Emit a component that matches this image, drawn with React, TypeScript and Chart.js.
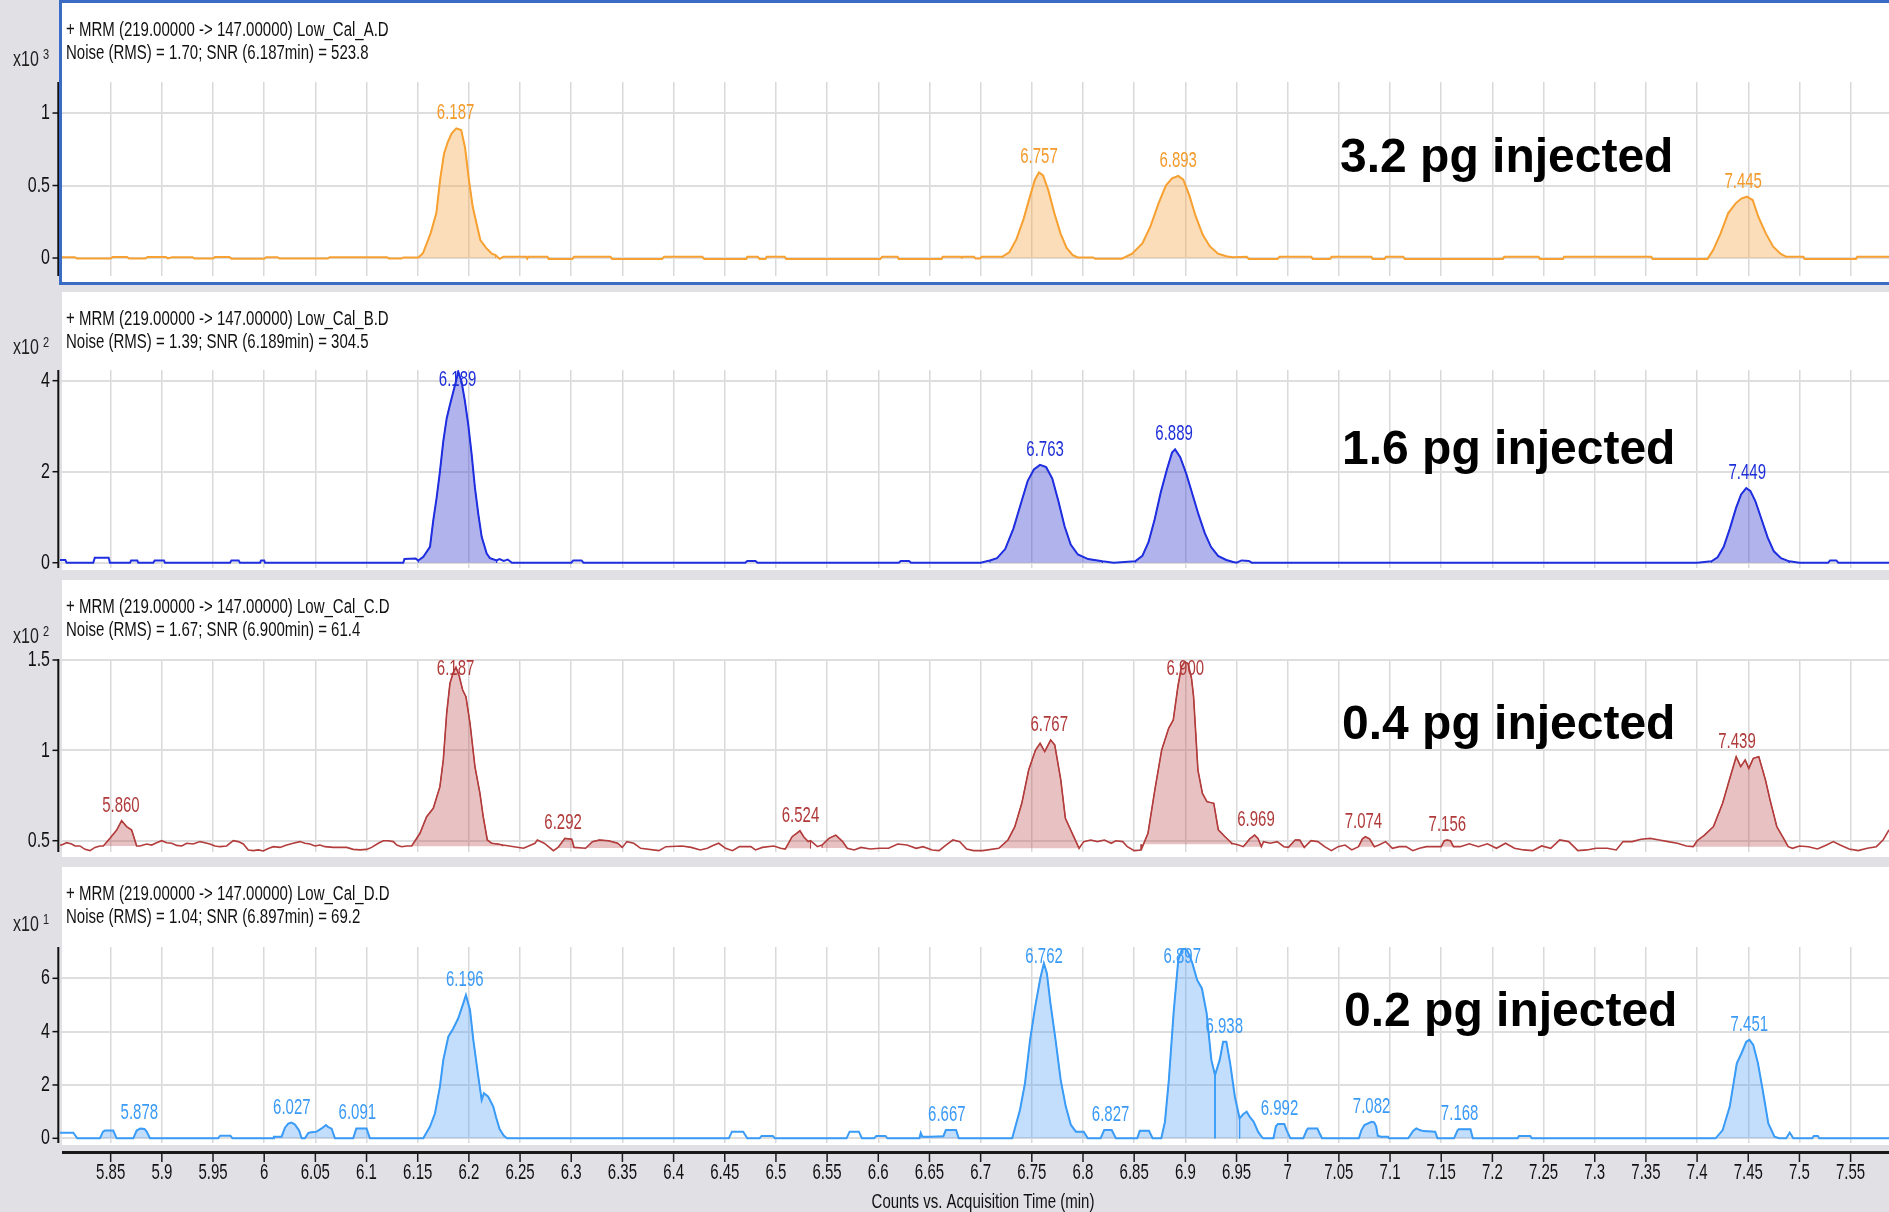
import React, { useEffect, useRef } from 'react';
import { Chart, registerables } from 'chart.js';
Chart.register(...registerables);

// ---------------- data ----------------
const X_TICKS = [5.85, 5.9, 5.95, 6, 6.05, 6.1, 6.15, 6.2, 6.25, 6.3, 6.35, 6.4, 6.45, 6.5, 6.55, 6.6, 6.65, 6.7, 6.75, 6.8, 6.85, 6.9, 6.95, 7, 7.05, 7.1, 7.15, 7.2, 7.25, 7.3, 7.35, 7.4, 7.45, 7.5, 7.55];
const X_MIN = 5.8005;
const X_MAX = 7.5875;
const X_TITLE = 'Counts vs. Acquisition Time (min)';

const A_Y_TICKS = [0, 0.5, 1];
const B_Y_TICKS = [0, 2, 4];
const C_Y_TICKS = [0.5, 1, 1.5];
const D_Y_TICKS = [0, 2, 4, 6];

const EXPONENTS = [3, 2, 2, 1];
const HEADER_1 = [
  '+ MRM (219.00000 -> 147.00000) Low_Cal_A.D',
  '+ MRM (219.00000 -> 147.00000) Low_Cal_B.D',
  '+ MRM (219.00000 -> 147.00000) Low_Cal_C.D',
  '+ MRM (219.00000 -> 147.00000) Low_Cal_D.D',
];
const HEADER_2 = [
  'Noise (RMS) = 1.70; SNR (6.187min) = 523.8',
  'Noise (RMS) = 1.39; SNR (6.189min) = 304.5',
  'Noise (RMS) = 1.67; SNR (6.900min) = 61.4',
  'Noise (RMS) = 1.04; SNR (6.897min) = 69.2',
];
const AMOUNTS = ['3.2 pg injected', '1.6 pg injected', '0.4 pg injected', '0.2 pg injected'];

// Panel A (x10^3)
const A_TRACE = [
  [5.8005, 0.006], [5.815, 0.006], [5.817, -0.004], [5.850, -0.004], [5.852, 0.007], [5.866, 0.007], [5.868, -0.004], [5.884, -0.004], [5.886, 0.007], [5.904, 0.007], [5.906, -0.003], [5.910, 0.006], [5.930, 0.006], [5.932, -0.004], [5.950, -0.004], [5.952, 0.007], [5.966, 0.007], [5.968, -0.005], [6.000, -0.005], [6.002, 0.006], [6.013, 0.006], [6.015, -0.004], [6.062, -0.004], [6.064, 0.006], [6.120, 0.006], [6.122, -0.004], [6.134, -0.004], [6.136, 0.004], [6.1506, 0.004],
  [6.1551, 0.033], [6.1626, 0.17], [6.1682, 0.31], [6.1719, 0.54], [6.1757, 0.72], [6.1794, 0.80], [6.1832, 0.86], [6.1877, 0.894], [6.1925, 0.883], [6.1963, 0.76], [6.2000, 0.54], [6.2037, 0.355], [6.2074, 0.24], [6.2112, 0.124], [6.2168, 0.07], [6.2224, 0.03], [6.2261, 0.02],
  [6.2300, -0.006], [6.2337, 0.008], [6.2561, 0.008], [6.2570, -0.004], [6.2580, 0.008], [6.2767, 0.008], [6.2780, -0.006], [6.3010, -0.006], [6.3028, 0.008], [6.3384, 0.008], [6.3400, -0.006], [6.3888, -0.006], [6.3907, 0.008], [6.4281, 0.008], [6.4300, -0.006], [6.4711, -0.006], [6.4720, 0.008], [6.4823, 0.008], [6.4840, -0.006], [6.4898, -0.006], [6.4910, 0.008], [6.5085, 0.008], [6.5100, -0.006], [6.6020, -0.006], [6.6038, 0.008], [6.6188, 0.008], [6.6200, -0.006], [6.6618, -0.006], [6.6630, 0.008], [6.6805, 0.008], [6.6815, 0.002], [6.6824, 0.008], [6.6936, 0.008], [6.6950, -0.004], [6.6992, -0.004], [6.7011, 0.008], [6.7210, 0.008],
  [6.7280, 0.04], [6.7350, 0.13], [6.7420, 0.27], [6.7480, 0.42], [6.7530, 0.54], [6.7570, 0.59], [6.7610, 0.57], [6.7660, 0.47], [6.7720, 0.31], [6.7780, 0.17], [6.7840, 0.07], [6.7900, 0.02], [6.7950, 0.004],
  [6.8100, 0.004], [6.8120, -0.005], [6.8380, -0.005],
  [6.8480, 0.03], [6.8580, 0.10], [6.8660, 0.22], [6.8740, 0.38], [6.8810, 0.50], [6.8870, 0.55], [6.8930, 0.566], [6.8980, 0.54], [6.9040, 0.43], [6.9100, 0.29], [6.9170, 0.16], [6.9240, 0.08], [6.9320, 0.03], [6.9400, 0.012], [6.9460, 0.006],
  [6.9600, 0.008], [6.9620, -0.006], [6.9900, -0.006], [6.9920, 0.008], [7.0230, 0.008], [7.0245, -0.006], [7.0414, -0.006], [7.0430, 0.008], [7.0817, 0.008], [7.0830, -0.006], [7.0946, -0.006], [7.0960, 0.008], [7.1129, 0.008], [7.1145, -0.006], [7.2102, -0.006], [7.2115, 0.008], [7.2451, 0.008], [7.2465, -0.006], [7.2689, -0.006], [7.2700, 0.008], [7.3552, 0.008], [7.3565, -0.006], [7.4102, -0.006],
  [7.4157, 0.055], [7.4230, 0.17], [7.4304, 0.31], [7.4377, 0.377], [7.4432, 0.41], [7.4487, 0.423], [7.4543, 0.40], [7.4598, 0.285], [7.4671, 0.17], [7.4744, 0.078], [7.4817, 0.028], [7.4873, 0.008],
  [7.5038, 0.008], [7.5050, -0.006], [7.5552, -0.006], [7.5565, 0.008], [7.5875, 0.008],
];
const A_PEAKS = [[6.1506, 6.2261, 0], [6.7210, 6.7950, 0], [6.8380, 6.9460, 0], [7.4102, 7.4873, 0]];
const A_LABELS = [6.187, 6.757, 6.893, 7.445];

// Panel B (x10^2)
const B_TRACE = [
  [5.8005, 0.06], [5.8057, 0.06], [5.8070, 0], [5.8330, 0], [5.8345, 0.11], [5.8480, 0.11], [5.8493, 0], [5.8689, 0], [5.8700, 0.05], [5.8760, 0.05], [5.8770, 0], [5.8916, 0], [5.8930, 0.05], [5.9020, 0.05], [5.9031, 0], [5.9666, 0], [5.9680, 0.05], [5.9750, 0.05], [5.9764, 0], [5.9959, 0], [5.9970, 0.05], [6.0000, 0.05], [6.0008, 0], [6.1359, 0], [6.1370, 0.08], [6.1480, 0.09], [6.1505, 0.05],
  [6.1555, 0.13], [6.1620, 0.35], [6.1652, 0.93], [6.1685, 1.43], [6.1717, 2.0], [6.1750, 2.67], [6.1783, 3.17], [6.1815, 3.47], [6.1847, 3.75], [6.1880, 4.04], [6.1896, 4.2], [6.1929, 3.97], [6.1962, 3.54], [6.1994, 3.03], [6.2027, 2.38], [6.2059, 1.65], [6.2092, 1.07], [6.2125, 0.57], [6.2174, 0.2], [6.2206, 0.1], [6.2271, 0.05],
  [6.2300, 0.08], [6.2340, 0.04], [6.2380, 0.07], [6.2420, 0.0], [6.3000, 0], [6.3020, 0.05], [6.3100, 0.05], [6.3120, 0], [6.4700, 0], [6.4720, 0.04], [6.4800, 0.04], [6.4820, 0], [6.6200, 0], [6.6220, 0.04], [6.6300, 0.04], [6.6320, 0], [6.7000, 0], [6.7090, 0.05],
  [6.7160, 0.1], [6.7240, 0.3], [6.7320, 0.75], [6.7400, 1.35], [6.7460, 1.8], [6.7520, 2.05], [6.7580, 2.15], [6.7640, 2.1], [6.7700, 1.85], [6.7760, 1.35], [6.7820, 0.8], [6.7880, 0.4], [6.7950, 0.18], [6.8050, 0.08], [6.8190, 0.03],
  [6.8300, 0], [6.8510, 0.03],
  [6.8580, 0.15], [6.8640, 0.45], [6.8700, 0.95], [6.8760, 1.55], [6.8820, 2.05], [6.8870, 2.42], [6.8900, 2.49], [6.8950, 2.32], [6.9010, 1.95], [6.9070, 1.5], [6.9130, 1.05], [6.9190, 0.65], [6.9250, 0.35], [6.9320, 0.15], [6.9400, 0.06], [6.9460, 0.02],
  [6.9500, 0], [6.9550, 0.05], [6.9620, 0.04], [6.9650, 0], [7.4000, 0], [7.4140, 0.03],
  [7.4200, 0.12], [7.4260, 0.35], [7.4320, 0.75], [7.4380, 1.2], [7.4430, 1.5], [7.4480, 1.64], [7.4520, 1.58], [7.4570, 1.35], [7.4630, 0.95], [7.4690, 0.55], [7.4750, 0.25], [7.4820, 0.1], [7.4900, 0.03],
  [7.5000, 0], [7.5280, 0], [7.5300, 0.05], [7.5360, 0.05], [7.5380, 0], [7.5875, 0],
];
const B_PEAKS = [[6.1505, 6.2271, 0], [6.7090, 6.8190, 0], [6.8510, 6.9460, 0], [7.4140, 7.4900, 0]];
const B_LABELS = [6.189, 6.763, 6.889, 7.449];

// Panel C (x10^2)
const C_TRACE = [
  [5.8005, 0.476], [5.8021, 0.476], [5.8070, 0.489], [5.8119, 0.482], [5.8151, 0.471], [5.8200, 0.471], [5.8249, 0.452], [5.8298, 0.445], [5.8347, 0.463], [5.8395, 0.471], [5.8428, 0.471],
  [5.8493, 0.513], [5.8559, 0.559], [5.8607, 0.611], [5.8656, 0.578], [5.8705, 0.559], [5.8754, 0.471],
  [5.8786, 0.471], [5.8852, 0.482], [5.8901, 0.476], [5.8949, 0.489], [5.8998, 0.500], [5.9047, 0.489], [5.9096, 0.486], [5.9145, 0.474], [5.9194, 0.471], [5.9243, 0.486], [5.9307, 0.482], [5.9373, 0.495], [5.9421, 0.489], [5.9470, 0.482], [5.9519, 0.471], [5.9568, 0.467], [5.9633, 0.471], [5.9698, 0.500], [5.9747, 0.495], [5.9796, 0.482], [5.9845, 0.449], [5.9894, 0.445], [5.9943, 0.449], [5.9991, 0.443], [6.0040, 0.457], [6.0089, 0.467], [6.0154, 0.463], [6.0220, 0.476], [6.0284, 0.486], [6.0350, 0.495], [6.0398, 0.486], [6.0447, 0.482], [6.0496, 0.471], [6.0545, 0.476], [6.0594, 0.467], [6.0675, 0.463], [6.0740, 0.463], [6.0806, 0.463], [6.0870, 0.452], [6.0936, 0.449], [6.1001, 0.452], [6.1050, 0.463], [6.1115, 0.486], [6.1164, 0.500], [6.1213, 0.500], [6.1262, 0.495], [6.1295, 0.476], [6.1343, 0.467], [6.1392, 0.471], [6.1441, 0.471],
  [6.1522, 0.541], [6.1587, 0.633], [6.1652, 0.679], [6.1717, 0.799], [6.1750, 0.947], [6.1783, 1.205], [6.1815, 1.371], [6.1847, 1.43], [6.1874, 1.46], [6.1906, 1.41], [6.1939, 1.334], [6.1971, 1.297], [6.2011, 1.150], [6.2059, 0.910], [6.2108, 0.762], [6.2140, 0.633], [6.2180, 0.504], [6.2222, 0.486], [6.2280, 0.482], [6.2332, 0.476],
  [6.2534, 0.458], [6.2646, 0.486], [6.2669, 0.504], [6.2736, 0.486], [6.2826, 0.445], [6.2871, 0.463],
  [6.2938, 0.513], [6.3005, 0.508], [6.3028, 0.463],
  [6.3140, 0.458],
  [6.3207, 0.495], [6.3274, 0.504], [6.3364, 0.500], [6.3454, 0.486], [6.3499, 0.463],
  [6.3544, 0.495], [6.3611, 0.486], [6.3678, 0.458], [6.3857, 0.445], [6.3925, 0.467], [6.4082, 0.471], [6.4172, 0.463], [6.4261, 0.449], [6.4329, 0.458], [6.4396, 0.476], [6.4441, 0.486], [6.4508, 0.458], [6.4575, 0.445], [6.4643, 0.467], [6.4755, 0.467], [6.4800, 0.449], [6.4867, 0.463], [6.4979, 0.471], [6.5046, 0.458], [6.5091, 0.454],
  [6.5158, 0.522], [6.5235, 0.555], [6.5271, 0.522], [6.5315, 0.495], [6.5338, 0.500],
  [6.5405, 0.467],
  [6.5450, 0.476], [6.5517, 0.513], [6.5585, 0.531], [6.5652, 0.495], [6.5697, 0.458],
  [6.5764, 0.449], [6.5831, 0.463], [6.5921, 0.454], [6.6011, 0.458], [6.6100, 0.458], [6.6190, 0.482], [6.6280, 0.476], [6.6370, 0.458], [6.6437, 0.467], [6.6527, 0.449], [6.6594, 0.445], [6.6661, 0.476], [6.6729, 0.504], [6.6796, 0.495], [6.6863, 0.454], [6.6930, 0.445], [6.7020, 0.445], [6.7177, 0.458],
  [6.7267, 0.504], [6.7334, 0.578], [6.7402, 0.707], [6.7469, 0.891], [6.7536, 1.002], [6.7581, 1.039], [6.7626, 0.993], [6.7684, 1.057], [6.7724, 1.030], [6.7783, 0.836], [6.7828, 0.624], [6.7895, 0.541], [6.7962, 0.458],
  [6.8007, 0.495], [6.8075, 0.504], [6.8142, 0.495], [6.8209, 0.504], [6.8276, 0.486], [6.8321, 0.500], [6.8388, 0.495], [6.8433, 0.467], [6.8500, 0.445], [6.8568, 0.449],
  [6.8635, 0.541], [6.8702, 0.781], [6.8769, 1.002], [6.8837, 1.122], [6.8882, 1.168], [6.8927, 1.352], [6.8962, 1.463], [6.8994, 1.49], [6.9026, 1.48], [6.9060, 1.40], [6.9080, 1.30], [6.9123, 0.891], [6.9167, 0.762], [6.9211, 0.716], [6.9278, 0.707], [6.9322, 0.560], [6.9388, 0.522], [6.9455, 0.486],
  [6.9520, 0.476], [6.9566, 0.467],
  [6.9629, 0.510], [6.9677, 0.531], [6.9710, 0.513], [6.9743, 0.467],
  [6.9764, 0.495], [6.9831, 0.486], [6.9897, 0.495], [6.9963, 0.467], [7.0007, 0.463],
  [7.0073, 0.504], [7.0118, 0.504], [7.0162, 0.463],
  [7.0228, 0.500], [7.0295, 0.495], [7.0361, 0.467], [7.0427, 0.445], [7.0493, 0.467], [7.0560, 0.476], [7.0626, 0.449], [7.0692, 0.467],
  [7.0730, 0.510], [7.0759, 0.522], [7.0800, 0.510], [7.0847, 0.467],
  [7.0891, 0.476], [7.0957, 0.495], [7.1023, 0.458], [7.1090, 0.467], [7.1156, 0.467], [7.1222, 0.445], [7.1288, 0.458], [7.1355, 0.467], [7.1421, 0.467], [7.1500, 0.467],
  [7.1530, 0.500], [7.1557, 0.504], [7.1590, 0.500], [7.1620, 0.467],
  [7.1686, 0.467], [7.1775, 0.483], [7.1863, 0.467], [7.1951, 0.483], [7.2040, 0.458], [7.2128, 0.486], [7.2216, 0.458], [7.2305, 0.449], [7.2393, 0.445], [7.2481, 0.471], [7.2570, 0.458], [7.2658, 0.504], [7.2746, 0.495], [7.2835, 0.445], [7.2923, 0.449], [7.3012, 0.458], [7.3122, 0.458], [7.3210, 0.449], [7.3277, 0.495], [7.3365, 0.495], [7.3453, 0.508], [7.3542, 0.513], [7.3630, 0.504], [7.3718, 0.495], [7.3807, 0.486], [7.3895, 0.471], [7.3962, 0.467],
  [7.4000, 0.50], [7.4072, 0.531], [7.4160, 0.578], [7.4249, 0.707], [7.4315, 0.836], [7.4382, 0.965], [7.4426, 0.91], [7.4470, 0.947], [7.4505, 0.90], [7.4549, 0.956], [7.4603, 0.965], [7.4668, 0.836], [7.4713, 0.725], [7.4779, 0.578], [7.4845, 0.513], [7.4890, 0.467],
  [7.4933, 0.458], [7.5000, 0.471], [7.5088, 0.467], [7.5176, 0.454], [7.5265, 0.476], [7.5331, 0.495], [7.5397, 0.476], [7.5486, 0.454], [7.5574, 0.445], [7.5662, 0.458], [7.5751, 0.467], [7.5817, 0.504], [7.5875, 0.56],
];
const C_PEAKS = [[5.8428, 5.8754, 0.471], [6.1441, 6.2332, 0.47], [6.2871, 6.3028, 0.46], [6.3140, 6.3499, 0.46], [6.5091, 6.5338, 0.458], [6.5450, 6.5697, 0.46], [6.7177, 6.7962, 0.458], [6.8568, 6.9455, 0.48], [6.9566, 6.9743, 0.467], [7.0007, 7.0162, 0.463], [7.0692, 7.0847, 0.467], [7.1500, 7.1620, 0.467], [7.3962, 7.4890, 0.467]];
const C_LABELS = [5.860, 6.187, 6.292, 6.524, 6.767, 6.900, 6.969, 7.074, 7.156, 7.439];

// Panel D (x10^1)
const D_TRACE = [
  [5.8005, 0.21], [5.8135, 0.21], [5.8174, 0], [5.8395, 0], [5.8425, 0.25], [5.8445, 0.29], [5.8525, 0.29], [5.8559, 0], [5.8721, 0], [5.8754, 0.29], [5.8790, 0.37], [5.8830, 0.35], [5.8852, 0.25], [5.8884, 0], [5.9550, 0], [5.9570, 0.1], [5.9670, 0.1], [5.9690, 0], [6.0089, 0], [6.0095, 0.06], [6.0170, 0.06], [6.0203, 0.40], [6.0235, 0.55], [6.0268, 0.59], [6.0300, 0.52], [6.0340, 0.3], [6.0366, 0], [6.0398, 0], [6.0430, 0.2], [6.0447, 0.22], [6.0512, 0.25], [6.0561, 0.37], [6.0603, 0.5], [6.0626, 0.42], [6.0659, 0.36], [6.0691, 0], [6.0870, 0], [6.0900, 0.37], [6.1000, 0.37], [6.1033, 0], [6.1554, 0],
  [6.1620, 0.44], [6.1669, 0.94], [6.1717, 1.94], [6.1750, 2.94], [6.1799, 3.81], [6.1847, 4.12], [6.1896, 4.5], [6.1945, 5.06], [6.1971, 5.37], [6.2011, 4.81], [6.2043, 3.69], [6.2092, 2.31], [6.2125, 1.44], [6.2147, 1.69], [6.2189, 1.56], [6.2238, 1.19], [6.2265, 0.8], [6.2300, 0.35], [6.2340, 0.1], [6.2373, 0],
  [6.4540, 0], [6.4570, 0.25], [6.4680, 0.25], [6.4720, 0], [6.4840, 0], [6.4860, 0.09], [6.4970, 0.09], [6.4990, 0], [6.5690, 0], [6.5720, 0.25], [6.5810, 0.25], [6.5840, 0], [6.5960, 0], [6.5980, 0.09], [6.6070, 0.09], [6.6090, 0], [6.6402, 0], [6.6415, 0.2], [6.6430, 0.06], [6.6511, 0.06], [6.6636, 0.08], [6.6660, 0.31], [6.6760, 0.31], [6.6786, 0], [6.7308, 0],
  [6.7384, 1.06], [6.7433, 2.06], [6.7483, 3.69], [6.7533, 4.94], [6.7583, 6.0], [6.7618, 6.56], [6.7647, 6.19], [6.7682, 5.06], [6.7732, 3.69], [6.7782, 2.19], [6.7832, 1.19], [6.7882, 0.5], [6.7931, 0.25], [6.8007, 0.25], [6.8047, 0],
  [6.8172, 0], [6.8207, 0.31], [6.8281, 0.31], [6.8321, 0], [6.8530, 0], [6.8555, 0.28], [6.8645, 0.28], [6.8680, 0], [6.8765, 0],
  [6.8800, 0.6], [6.8839, 2.19], [6.8885, 4.69], [6.8931, 6.69], [6.8968, 7.1], [6.9000, 7.1], [6.9023, 7.0], [6.9045, 6.8], [6.9069, 6.56], [6.9115, 5.94], [6.9162, 5.62], [6.9208, 4.69], [6.9254, 2.94], [6.9290, 2.37],
  [6.9336, 2.94], [6.9369, 3.62], [6.9401, 3.62], [6.9438, 2.81], [6.9484, 1.56], [6.9530, 0.75], [6.9565, 0.9], [6.9599, 1.0], [6.9630, 0.8], [6.9668, 0.62], [6.9710, 0.25], [6.9737, 0.1], [6.9760, 0],
  [6.9861, 0], [6.9885, 0.45], [6.9905, 0.54], [6.9967, 0.54], [6.9990, 0.3], [7.0027, 0], [7.0152, 0], [7.0185, 0.3], [7.0198, 0.37], [7.0290, 0.37], [7.0310, 0.2], [7.0336, 0], [7.0695, 0], [7.0720, 0.3], [7.0750, 0.5], [7.0819, 0.62], [7.0845, 0.6], [7.0865, 0.44], [7.0880, 0.1], [7.0911, 0.06], [7.0980, 0.06], [7.0990, 0], [7.1178, 0], [7.1225, 0.28], [7.1257, 0.37], [7.1290, 0.31], [7.1326, 0.27], [7.1441, 0.25], [7.1464, 0], [7.1625, 0], [7.1660, 0.3], [7.1671, 0.34], [7.1786, 0.34], [7.1809, 0], [7.2247, 0], [7.2260, 0.09], [7.2370, 0.09], [7.2385, 0], [7.4181, 0],
  [7.4250, 0.31], [7.4319, 1.19], [7.4388, 2.81], [7.4434, 3.19], [7.4480, 3.62], [7.4512, 3.69], [7.4549, 3.5], [7.4595, 2.81], [7.4641, 1.81], [7.4696, 0.56], [7.4756, 0.06], [7.4802, 0],
  [7.4871, 0], [7.4905, 0.21], [7.4940, 0], [7.5125, 0], [7.5140, 0.09], [7.5180, 0.09], [7.5194, 0], [7.5875, 0],
];
const D_PEAKS = [[5.8395, 5.8559, 0], [5.8721, 5.8884, 0], [6.0089, 6.0366, 0], [6.0398, 6.0691, 0], [6.0870, 6.1033, 0], [6.1554, 6.2373, 0], [6.6402, 6.6786, 0], [6.7308, 6.8047, 0], [6.8172, 6.8321, 0], [6.8530, 6.8680, 0], [6.8765, 6.9290, 0], [6.9290, 6.9530, 0], [6.9530, 6.9760, 0], [6.9861, 7.0027, 0], [7.0152, 7.0336, 0], [7.0695, 7.0990, 0], [7.1178, 7.1464, 0], [7.1625, 7.1809, 0], [7.4181, 7.4802, 0]];
const D_LABELS = [5.878, 6.027, 6.091, 6.196, 6.667, 6.762, 6.827, 6.897, 6.938, 6.992, 7.082, 7.168, 7.451];

// ---------------- layout / style ----------------
const W = 1889;
const FONT = '"Liberation Sans", Arial, Helvetica, sans-serif';
const BG = '#e0e0e5';

const PANELS = [
  { top: 0, height: 288, whiteTop: 3, whiteBottom: 282, padTop: 82, padBottom: 12, yMin: -0.124, yMax: 1.214, yTicks: A_Y_TICKS, trace: A_TRACE, peaks: A_PEAKS, labels: A_LABELS, line: '#f7a133', fillC: 'rgba(248,170,80,0.4)', labelC: '#f39a2a', lw: 2, amountX: 1340, amountY: 172, border: true, axis: false },
  { top: 288, height: 287, whiteTop: 4, whiteBottom: 282, padTop: 82, padBottom: 7, yMin: -0.116, yMax: 4.235, yTicks: B_Y_TICKS, trace: B_TRACE, peaks: B_PEAKS, labels: B_LABELS, line: '#1f2fe0', fillC: 'rgba(60,65,210,0.4)', labelC: '#1f2fd8', lw: 2, amountX: 1342, amountY: 176, border: false, axis: false },
  { top: 575, height: 287, whiteTop: 5, whiteBottom: 282, padTop: 84, padBottom: 10, yMin: 0.4375, yMax: 1.5055, yTicks: C_Y_TICKS, trace: C_TRACE, peaks: C_PEAKS, labels: C_LABELS, line: '#b33c3c', fillC: 'rgba(190,80,80,0.35)', labelC: '#b03a3a', lw: 1.6, amountX: 1342, amountY: 164, border: false, axis: false },
  { top: 862, height: 350, whiteTop: 5, whiteBottom: 283, padTop: 85, padBottom: 69, yMin: -0.176, yMax: 7.174, yTicks: D_Y_TICKS, trace: D_TRACE, peaks: D_PEAKS, labels: D_LABELS, line: '#3b9cf7', fillC: 'rgba(80,160,245,0.35)', labelC: '#3a9af5', lw: 2, amountX: 1344, amountY: 164, border: false, axis: true },
];

function stext(ctx: CanvasRenderingContext2D, text: string, x: number, y: number, size: number, color: string, align: CanvasTextAlign = 'left', sy = 1.4) {
  ctx.save();
  ctx.translate(x, y);
  ctx.scale(1, sy);
  ctx.font = `${size}px ${FONT}`;
  ctx.fillStyle = color;
  ctx.textAlign = align;
  ctx.textBaseline = 'middle';
  ctx.fillText(text, 0, 0);
  ctx.restore();
}

function buildConfig(p: any, idx: number) {
  const tracePts = p.trace.map((d: number[]) => ({ x: d[0], y: d[1] }));
  const peakSets = p.peaks.map((pk: number[]) => {
    const [s, e, base] = pk;
    const inside = p.trace.filter((d: number[]) => d[0] >= s - 1e-9 && d[0] <= e + 1e-9).map((d: number[]) => ({ x: d[0], y: d[1] }));
    return {
      data: [{ x: s, y: base }, ...inside, { x: e, y: base }],
      borderColor: p.line,
      borderWidth: 1,
      backgroundColor: p.fillC,
      fill: { value: base },
      pointRadius: 0,
      tension: 0,
      order: 1,
    };
  });

  const panelPlugin = {
    id: 'panelDeco' + idx,
    beforeDraw(chart: any) {
      const ctx = chart.ctx;
      ctx.save();
      ctx.fillStyle = '#ffffff';
      ctx.fillRect(62, p.whiteTop, W - 62, p.whiteBottom - p.whiteTop);
      ctx.restore();
    },
    afterDraw(chart: any) {
      const ctx = chart.ctx as CanvasRenderingContext2D;
      const ca = chart.chartArea;
      const xs = chart.scales.x;
      const ys = chart.scales.y;
      ctx.save();
      // y axis line
      ctx.strokeStyle = '#111';
      ctx.lineWidth = 2;
      ctx.beginPath();
      ctx.moveTo(58.3, ca.top);
      ctx.lineTo(58.3, ca.bottom);
      ctx.stroke();
      // y ticks
      ctx.lineWidth = 1.5;
      p.yTicks.forEach((v: number) => {
        const py = ys.getPixelForValue(v);
        ctx.beginPath();
        ctx.moveTo(52.5, py);
        ctx.lineTo(58.3, py);
        ctx.stroke();
        stext(ctx, String(v), 50, py, 16, '#111', 'right', 1.4);
      });
      // x10^n
      stext(ctx, 'x10', 13, ca.top - 22, 16, '#222', 'left', 1.35);
      stext(ctx, String(EXPONENTS[idx]), 43, ca.top - 27, 11, '#222', 'left', 1.35);
      // header lines
      stext(ctx, HEADER_1[idx], 66, p.whiteTop + 27, 15, '#111', 'left', 1.35);
      stext(ctx, HEADER_2[idx], 66, p.whiteTop + 50, 15, '#111', 'left', 1.35);
      // peak labels
      p.labels.forEach((rt: number) => {
        let mx = -Infinity;
        p.trace.forEach((d: number[]) => { if (Math.abs(d[0] - rt) <= 0.006 && d[1] > mx) mx = d[1]; });
        const px = xs.getPixelForValue(rt);
        const apexY = ys.getPixelForValue(mx);
        const cy = Math.max(apexY - 15, ca.top + 10);
        stext(ctx, rt.toFixed(3), px, cy, 15, p.labelC, 'center', 1.45);
      });
      // amount label
      ctx.font = `bold 48px ${FONT}`;
      ctx.fillStyle = '#000';
      ctx.textAlign = 'left';
      ctx.textBaseline = 'alphabetic';
      ctx.fillText(AMOUNTS[idx], p.amountX, p.amountY);
      // selected panel border
      if (p.border) {
        ctx.strokeStyle = '#3a6cc6';
        ctx.lineWidth = 3;
        ctx.strokeRect(60.5, 1.5, W + 10, 282);
      }
      // bottom x axis
      if (p.axis) {
        const ay = 290.5;
        ctx.strokeStyle = '#1a1a1a';
        ctx.lineWidth = 3;
        ctx.beginPath();
        ctx.moveTo(62, ay);
        ctx.lineTo(W, ay);
        ctx.stroke();
        ctx.lineWidth = 1.5;
        X_TICKS.forEach((t) => {
          const px = xs.getPixelForValue(t);
          ctx.beginPath();
          ctx.moveTo(px, ay);
          ctx.lineTo(px, ay + 9.5);
          ctx.stroke();
          stext(ctx, String(t), px, 311, 15, '#111', 'center', 1.5);
        });
        stext(ctx, X_TITLE, 983, 340, 15, '#111', 'center', 1.35);
      }
      ctx.restore();
    },
  };

  return {
    type: 'line',
    data: {
      datasets: [
        { data: tracePts, borderColor: p.line, borderWidth: p.lw, fill: false, pointRadius: 0, tension: 0, order: 0 },
        ...peakSets,
      ],
    },
    options: {
      responsive: false,
      maintainAspectRatio: false,
      animation: false,
      events: [],
      layout: { padding: { left: 60, right: 0, top: p.padTop, bottom: p.padBottom } },
      plugins: { legend: { display: false }, tooltip: { enabled: false } },
      scales: {
        x: {
          type: 'linear',
          min: X_MIN,
          max: X_MAX,
          afterBuildTicks: (axis: any) => { axis.ticks = X_TICKS.map((v) => ({ value: v })); },
          afterFit: (scale: any) => { scale.height = 0; },
          ticks: { display: false },
          grid: { color: '#d9d9d9', lineWidth: 1.5, drawTicks: false },
          border: { display: false },
        },
        y: {
          type: 'linear',
          min: p.yMin,
          max: p.yMax,
          afterBuildTicks: (axis: any) => { axis.ticks = p.yTicks.map((v: number) => ({ value: v })); },
          afterFit: (scale: any) => { scale.width = 0; },
          ticks: { display: false },
          grid: { color: '#dedede', lineWidth: 2, drawTicks: false },
          border: { display: false },
        },
      },
    },
    plugins: [panelPlugin],
  };
}

function Panel({ p, idx }: { p: any; idx: number }) {
  const ref = useRef<HTMLCanvasElement>(null);
  useEffect(() => {
    if (!ref.current) return;
    const chart = new Chart(ref.current, buildConfig(p, idx) as any);
    return () => chart.destroy();
  }, []);
  return (
    <canvas
      ref={ref}
      width={W}
      height={p.height}
      style={{ position: 'absolute', left: 0, top: p.top, width: W, height: p.height, display: 'block' }}
    />
  );
}

export default function App() {
  return (
    <div style={{ position: 'absolute', left: 0, top: 0, width: W, height: 1212, background: BG, overflow: 'hidden' }}>
      {PANELS.map((p, i) => (
        <Panel key={i} p={p} idx={i} />
      ))}
    </div>
  );
}
